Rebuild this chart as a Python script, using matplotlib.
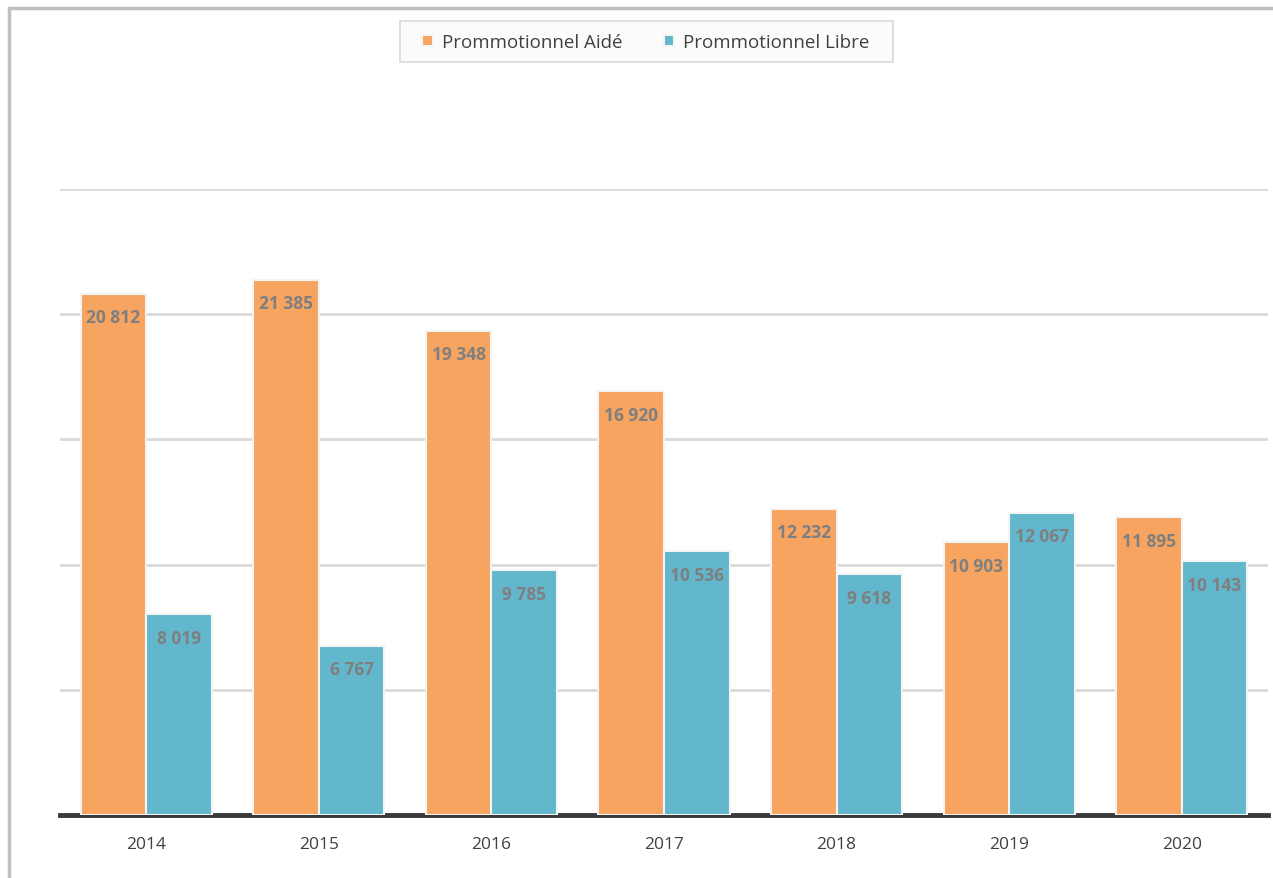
import matplotlib.pyplot as plt
import numpy as np
from matplotlib.patches import Rectangle

years = ["2014", "2015", "2016", "2017", "2018", "2019", "2020"]
aide = [20812, 21385, 19348, 16920, 12232, 10903, 11895]
libre = [8019, 6767, 9785, 10536, 9618, 12067, 10143]

orange = "#F6A460"
blue = "#63B7CD"

plt.rcParams['font.family'] = ['Open Sans', 'DejaVu Sans']

W, H = 1273, 879
fig = plt.figure(figsize=(W / 100, H / 100), dpi=100)
# outer grey frame
fig.patches.append(Rectangle((9 / W, -0.05), 1.2, (H - 9) / H + 0.05,
                             transform=fig.transFigure, fill=False,
                             edgecolor="#bfbfbf", linewidth=2.5))
# legend box
fig.patches.append(Rectangle((400 / W, 1 - 63 / H), 493 / W, 41 / H,
                             transform=fig.transFigure, facecolor="#fbfbfb",
                             edgecolor="#d9d9d9", linewidth=1.2))

ax = fig.add_axes([60 / W, 63 / H, 1208 / W, 626 / H])
x = np.arange(len(years))
w = 0.38

b1 = ax.bar(x - w / 2, aide, w, color=orange, edgecolor="#f4f4f4", linewidth=1.5,
            label="Prommotionnel Aidé", zorder=3)
b2 = ax.bar(x + w / 2, libre, w, color=blue, edgecolor="#f4f4f4", linewidth=1.5,
            label="Prommotionnel Libre", zorder=3)

for bars, vals in ((b1, aide), (b2, libre)):
    for rect, v in zip(bars, vals):
        lab = f"{v:,}".replace(",", " ")
        ax.annotate(lab, (rect.get_x() + rect.get_width() / 2, v),
                    xytext=(0, -17), textcoords="offset points",
                    ha="center", va="center", fontsize=12.5, fontweight="bold",
                    color="#7f7f7f", zorder=4)

ax.set_xlim(-0.5, len(years) - 0.5)
ax.set_ylim(0, 25000)
ax.set_yticks([5000, 10000, 15000, 20000, 25000])
ax.yaxis.grid(True, color="#d9d9d9", linewidth=2)
ax.set_axisbelow(True)
ax.tick_params(axis="y", left=False, labelleft=False)
ax.tick_params(axis="x", length=0, pad=15, labelsize=12.5, labelcolor="#404040")
ax.set_xticks(x)
ax.set_xticklabels(years)
for s in ["top", "right", "left"]:
    ax.spines[s].set_visible(False)
ax.spines["bottom"].set_color("#3a3a3a")
ax.spines["bottom"].set_linewidth(3.5)

fig.legend(loc="center", bbox_to_anchor=(646 / W, 1 - 43 / H), ncol=2,
           frameon=False, fontsize=13.5,
           handlelength=0.55, handleheight=0.55, handletextpad=0.5,
           columnspacing=2.2, borderaxespad=0, labelcolor="#404040")

fig.savefig("out.png", dpi=100)
